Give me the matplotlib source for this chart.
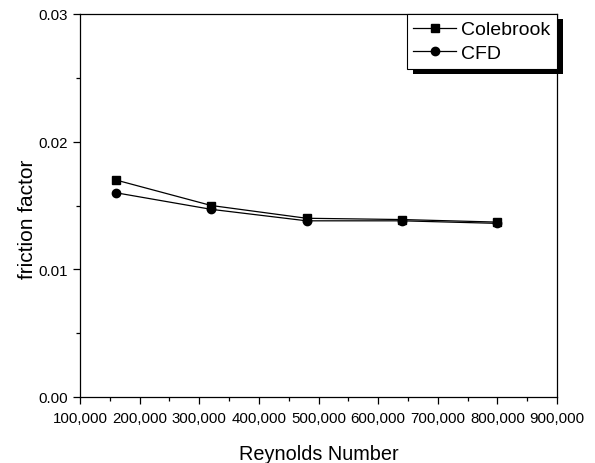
import matplotlib
matplotlib.use('Agg')
import matplotlib.pyplot as plt
from matplotlib.ticker import MultipleLocator, FuncFormatter
from matplotlib.patches import Rectangle

plt.rcParams['font.family'] = ['Liberation Sans', 'DejaVu Sans']

# data
reynolds = [160000, 320000, 480000, 640000, 800000]
colebrook = [0.0170, 0.0150, 0.0140, 0.0139, 0.0137]
cfd = [0.0160, 0.0147, 0.0138, 0.0138, 0.0136]

fig = plt.figure(figsize=(5.95, 4.64), dpi=100)
ax = fig.add_axes([80/595, 1-398/464, 477/595, 383/464])

ax.plot(reynolds, colebrook, color='k', lw=0.9, marker='s', ms=5.5, label='Colebrook')
ax.plot(reynolds, cfd, color='k', lw=0.9, marker='o', ms=6, label='CFD')

ax.set_xlim(100000, 900000)
ax.set_ylim(0, 0.03)
ax.xaxis.set_major_locator(MultipleLocator(100000))
ax.xaxis.set_minor_locator(MultipleLocator(50000))
ax.yaxis.set_major_locator(MultipleLocator(0.01))
ax.yaxis.set_minor_locator(MultipleLocator(0.005))
ax.xaxis.set_major_formatter(FuncFormatter(lambda v, p: f'{int(round(v)):,}'))
ax.yaxis.set_major_formatter(FuncFormatter(lambda v, p: f'{v:.2f}'))
ax.tick_params(which='both', direction='out', labelsize=10.8, width=0.9)
ax.tick_params(which='major', length=5)
ax.tick_params(which='minor', length=3)
ax.tick_params(axis='x', pad=5)
for s in ax.spines.values():
    s.set_linewidth(0.9)

ax.set_xlabel('Reynolds Number', fontsize=14.3, labelpad=14)
ax.set_ylabel('friction factor', fontsize=15)
ax.yaxis.set_label_coords(-0.09, 0.467)

leg = ax.legend(loc='upper right', bbox_to_anchor=(1.0, 1.0), fancybox=False,
                edgecolor='k', framealpha=1, fontsize=14, handlelength=2.2,
                handletextpad=0.25, borderpad=0.35, labelspacing=0.3,
                borderaxespad=0)
leg.get_frame().set_linewidth(0.8)
leg.set_zorder(10)

# black drop shadow behind the legend box
fig.canvas.draw()
bb = leg.get_frame().get_window_extent()
shadow = Rectangle((bb.x0 + 6, bb.y0 - 5), bb.width, bb.height,
                   transform=None, facecolor='k', edgecolor='none',
                   clip_on=False, zorder=9)
ax.add_artist(shadow)

plt.savefig('out.png', dpi=100)
plt.close()
